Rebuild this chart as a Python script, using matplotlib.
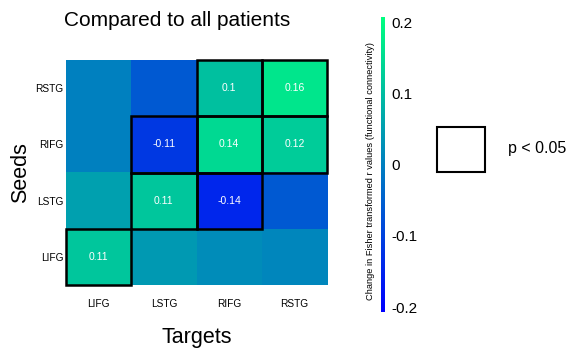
import numpy as np
import matplotlib
matplotlib.use("Agg")
import matplotlib.pyplot as plt
from matplotlib.patches import Rectangle
from matplotlib.cm import ScalarMappable
from matplotlib.colors import Normalize

plt.rcParams['font.family'] = ['Liberation Sans', 'DejaVu Sans']

targets = ["LIFG", "LSTG", "RIFG", "RSTG"]
seeds = ["RSTG", "RIFG", "LSTG", "LIFG"]  # top to bottom
values = np.array([
    [0.00, -0.06, 0.10, 0.16],
    [0.00, -0.11, 0.14, 0.12],
    [0.05, 0.11, -0.14, -0.06],
    [0.11, 0.04, 0.02, 0.01],
])
significant = np.array([
    [0, 0, 1, 1],
    [0, 1, 1, 1],
    [0, 1, 1, 0],
    [1, 0, 0, 0],
], dtype=bool)
cbar_ticks = [-0.2, -0.1, 0, 0.1, 0.2]
cbar_ticklabels = ["-0.2", "-0.1", "0", "0.1", "0.2"]

fig = plt.figure(figsize=(5.71, 3.49), dpi=100)
ax = fig.add_axes([0.1156, 0.1834, 0.4571, 0.6446])
im = ax.imshow(values, cmap="winter", vmin=-0.2, vmax=0.2, aspect="auto",
               extent=(-0.5, 3.5, 3.5, -0.5))
ax.set_xlim(-0.5, 3.5)
ax.set_ylim(3.5, -0.5)
for s in ax.spines.values():
    s.set_visible(False)
ax.set_xticks(range(4))
ax.set_xticklabels(targets, fontsize=7.3)
ax.set_yticks(range(4))
ax.set_yticklabels(seeds, fontsize=7.3)
ax.tick_params(axis="x", length=0, pad=10)
ax.tick_params(axis="y", length=0, pad=2)
ax.set_xlabel("Targets", fontsize=15.5, labelpad=13)
ax.set_ylabel("Seeds", fontsize=15.5, labelpad=3)

for i in range(4):
    for j in range(4):
        if significant[i, j]:
            v = values[i, j]
            ax.text(j, i, f"{v:g}", ha="center", va="center", color="white", fontsize=7.5)
            ax.add_patch(Rectangle((j - 0.5, i - 0.5), 1, 1, fill=False,
                                   edgecolor="black", linewidth=1.8, clip_on=False))

fig.text(0.31, 0.94, "Compared to all patients", ha="center", va="center", fontsize=15)

cax = fig.add_axes([0.667, 0.106, 0.007, 0.845])
sm = ScalarMappable(norm=Normalize(-0.207, 0.207), cmap="winter")
cb = fig.colorbar(sm, cax=cax, ticks=cbar_ticks)
cb.set_ticklabels(cbar_ticklabels)
cb.outline.set_visible(False)
cax.tick_params(labelsize=11, length=0, pad=5)
cax.yaxis.set_ticks_position("right")
fig.text(0.649, 0.51, "Change in Fisher transformed r values (functional connectivity)",
         rotation=90, ha="center", va="center", fontsize=6.7)

lax = fig.add_axes([0, 0, 1, 1], facecolor="none")
lax.set_axis_off()
lax.set_xlim(0, 1)
lax.set_ylim(0, 1)
lax.add_patch(Rectangle((437 / 571, 1 - 172 / 349), 48 / 571, 45 / 349, fill=False,
                        edgecolor="black", linewidth=1.5))
lax.text(508 / 571, 1 - 149 / 349, "p < 0.05", ha="left", va="center", fontsize=11.5)

fig.savefig("out.png", dpi=100)
